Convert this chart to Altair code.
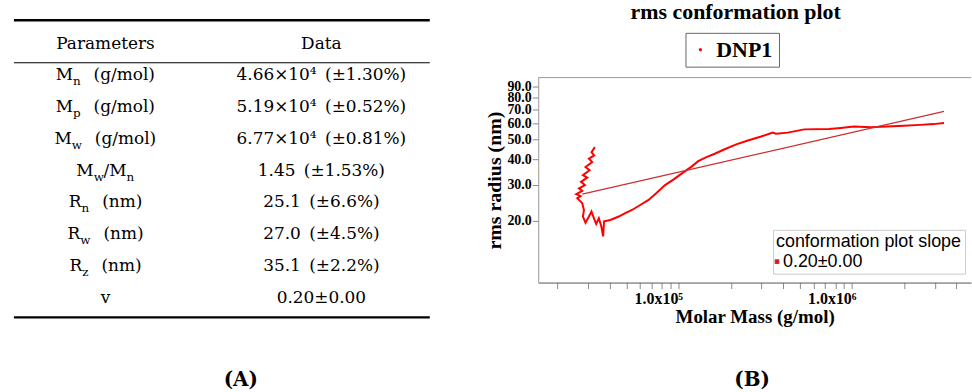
import altair as alt
import pandas as pd

# ---------------- (A) table content ----------------
table_header = ["Parameters", "Data"]
param_symbol = ["M", "M", "M", "M", "R", "R", "R", "v"]
param_subscript = ["n", "p", "w", "w", "n", "w", "z", ""]
param_ratio_symbol = ["", "", "", "/M", "", "", "", ""]
param_ratio_subscript = ["", "", "", "n", "", "", "", ""]
param_unit = ["(g/mol)", "(g/mol)", "(g/mol)", "", "(nm)", "(nm)", "(nm)", ""]
data_value = ["4.66×10⁴", "5.19×10⁴", "6.77×10⁴", "1.45", "25.1", "27.0", "35.1", "0.20±0.00"]
data_error = ["±1.30%", "±0.52%", "±0.81%", "±1.53%", "±6.6%", "±4.5%", "±2.2%", ""]

# ---------------- (B) rms conformation plot data ----------------
molar_mass = [
    32880, 31440, 32570, 30390, 31730, 29040, 30620, 28060, 29710, 27340,
    28820, 26620, 27800, 25690, 27200, 26030,
    27800, 28440, 28060, 29040, 30390, 31440, 32450, 33460, 34670, 35860,
    36680, 37160, 40400, 45120, 49250, 53800, 60030, 67060, 74800, 83470,
    93240, 104000, 118700, 129700, 144700, 161500, 184300, 215000, 250700,
    299000, 348900, 364500, 425300, 529500, 736200, 859200, 1024000, 1276000,
    1590000, 1981000, 2470000, 2943000, 3389000,
]
rms_radius = [
    45.8, 43.3, 41.7, 40.2, 38.7, 36.6, 35.3, 33.4, 32.5, 31.0,
    29.9, 28.8, 28.0, 27.0, 26.4, 25.8,
    24.4, 22.6, 21.0, 19.6, 21.0, 22.2, 20.6, 19.3, 20.6, 18.7,
    16.8, 19.9, 20.2, 21.0, 21.8, 22.6, 23.9, 25.3, 27.4, 29.9,
    31.8, 34.0, 36.8, 39.1, 40.9, 42.5, 44.7, 47.2, 49.3,
    51.6, 53.9, 53.2, 53.9, 55.9, 56.1, 56.8, 57.7, 57.2,
    57.8, 58.3, 58.8, 59.3, 60.0,
]
fit_mass = [27800, 3389000]
fit_radius = [27.0, 68.4]
series_name = "DNP1"
slope_text = "0.20±0.00"
x_domain = [15500, 4850000]
y_domain = [10, 100]
x_tick_values = [20000, 30000, 40000, 50000, 60000, 70000, 80000, 90000,
                 100000, 200000, 300000, 400000, 500000, 600000, 700000,
                 800000, 900000, 1000000, 2000000, 3000000, 4000000]
x_label_values = [100000, 1000000]
x_label_texts = ["1.0x10⁵", "1.0x10⁶"]
y_tick_values = [20, 30, 40, 50, 60, 70, 80, 90]

# ---------------- layout constants ----------------
SERIF = "DejaVu Serif"
TIMES = "Liberation Serif"
SANS = "Liberation Sans"
VIEW_TOP = 77            # both panels' views start at this height
TABLE_W, TABLE_H = 418, 253
HEADER_Y, ROW_PITCH = 43, 31.9
COL_CENTER = [92, 309]
FS, SUB_FS, GAP = 17, 12, 13
PLOT_W, PLOT_H = 435, 206

EM = {"M": 0.998, "R": 0.77, "n": 0.644, "p": 0.64, "w": 0.856, "z": 0.527,
      "/": 0.337, "(": 0.39, ")": 0.39, "g": 0.635, "m": 0.948, "o": 0.602,
      "l": 0.32, "v": 0.578, " ": 0.318}


def tw(s, size):
    return sum(EM.get(c, 0.6) for c in s) * size


pieces = []
for j, h in enumerate(table_header):
    pieces.append(dict(row=0, x=COL_CENTER[j], text=h, kind="center"))
for i in range(len(param_symbol)):
    r = i + 1
    c = COL_CENTER[0]
    main, sub = param_symbol[i], param_subscript[i]
    mid, sub2, unit = param_ratio_symbol[i], param_ratio_subscript[i], param_unit[i]
    if not sub:
        pieces.append(dict(row=r, x=c, text=main, kind="center"))
    elif mid:
        wm, ws, wmid, ws2 = tw(main, FS), tw(sub, SUB_FS), tw(mid, FS), tw(sub2, SUB_FS)
        a = c - (wm + ws + wmid + ws2) / 2 + wm
        a2 = a + ws + wmid
        pieces += [dict(row=r, x=a, text=main, kind="right"),
                   dict(row=r, x=a, text=sub, kind="sub"),
                   dict(row=r, x=a2, text=mid, kind="right"),
                   dict(row=r, x=a2, text=sub2, kind="sub")]
    else:
        wm, ws, wu = tw(main, FS), tw(sub, SUB_FS), tw(unit, FS)
        a = c - (wm + ws + GAP + wu) / 2 + wm
        pieces += [dict(row=r, x=a, text=main, kind="right"),
                   dict(row=r, x=a, text=sub, kind="sub"),
                   dict(row=r, x=a + ws + GAP, text=unit, kind="left")]
    txt = data_value[i] + ("\u2002(" + data_error[i] + ")" if data_error[i] else "")
    pieces.append(dict(row=r, x=COL_CENTER[1], text=txt, kind="center"))

pieces_df = pd.DataFrame(pieces)
rules_df = pd.DataFrame({"pos": [-0.74, 0.6, 8.62], "w": [2.4, 1.1, 2.4]})

ty = alt.Scale(domain=[(VIEW_TOP - HEADER_Y) / ROW_PITCH,
                       (VIEW_TOP + TABLE_H - HEADER_Y) / ROW_PITCH],
               reverse=True, nice=False, zero=False)
tx = alt.Scale(domain=[0, TABLE_W], nice=False)

rules = alt.Chart(rules_df).mark_rule(color="black").encode(
    y=alt.Y("pos:Q", scale=ty, axis=None),
    x=alt.value(0), x2=alt.value(TABLE_W),
    strokeWidth=alt.StrokeWidth("w:Q", scale=None),
)


def text_layer(kind, align, size, dy=0):
    return alt.Chart(pieces_df).transform_filter(
        alt.datum.kind == kind
    ).mark_text(align=align, baseline="middle", font=SERIF, fontSize=size,
                dy=dy, color="black").encode(
        x=alt.X("x:Q", scale=tx, axis=None),
        y=alt.Y("row:Q", scale=ty, axis=None),
        text="text:N",
    )


table = alt.layer(
    rules,
    text_layer("center", "center", FS),
    text_layer("left", "left", FS),
    text_layer("right", "right", FS),
    text_layer("sub", "left", SUB_FS, dy=6),
).properties(
    width=TABLE_W, height=TABLE_H,
    title=alt.TitleParams("(A)", orient="bottom", font=SERIF, fontSize=20,
                          fontWeight="bold", offset=41, anchor="middle", dx=19,
                          color="black"),
)

# ---------------- (B) plot ----------------
curve_df = pd.DataFrame({"M": molar_mass, "R": rms_radius,
                         "order": list(range(len(molar_mass))),
                         "series": series_name})
fit_df = pd.DataFrame({"M": fit_mass, "R": fit_radius, "slope": slope_text})

label_expr = " : ".join(
    f"datum.value == {v} ? '{t}'" for v, t in zip(x_label_values, x_label_texts)
) + " : ''"

xs = alt.Scale(type="log", domain=x_domain, nice=False)
ys = alt.Scale(type="log", domain=y_domain, nice=False)

x_axis = alt.Axis(values=x_tick_values, labelExpr=label_expr, grid=False,
                  title="Molar Mass (g/mol)", labelFont=TIMES, labelFontSize=16,
                  labelFontWeight="bold", labelColor="black", labelAlign="right",
                  labelOffset=4, labelPadding=2, labelOverlap=False, labelFlush=False,
                  tickColor="#888", tickSize=6, domainColor="#555",
                  titleFont=TIMES, titleFontSize=19, titleFontWeight="bold",
                  titleColor="black", titlePadding=1)
y_axis = alt.Axis(values=y_tick_values, format=".1f", grid=False,
                  title="rms radius (nm)", labelFont=TIMES, labelFontSize=14,
                  labelFontWeight="bold", labelColor="black", labelPadding=1,
                  labelOverlap=False, labelFlush=False,
                  tickColor="#888", tickSize=6, domainColor="#999",
                  titleFont=TIMES, titleFontSize=20, titleFontWeight="bold",
                  titleColor="black", titlePadding=2)

border = alt.Chart(pd.DataFrame({"b": [0]})).mark_rule(color="#999", strokeWidth=1).encode(
    y=alt.value(0), x=alt.value(0), x2=alt.value(PLOT_W)
)

curve = alt.Chart(curve_df).mark_line(strokeWidth=2).encode(
    x=alt.X("M:Q", scale=xs, axis=x_axis),
    y=alt.Y("R:Q", scale=ys, axis=y_axis),
    order="order:Q",
    color=alt.Color("series:N", scale=alt.Scale(domain=[series_name], range=["#ff0000"]),
                    legend=alt.Legend(title=None, orient="none", legendX=148, legendY=-45,
                                      labelFont=TIMES, labelFontSize=22,
                                      labelFontWeight="bold", labelColor="black",
                                      symbolType="circle", symbolSize=6,
                                      symbolFillColor="#ff0000", symbolStrokeWidth=1,
                                      strokeColor="#666", fillColor="white",
                                      padding=6, symbolOffset={"expr": "-2"},
                                      labelOffset={"expr": "5"})),
)

fit = alt.Chart(fit_df).mark_line(strokeWidth=1.2).encode(
    x=alt.X("M:Q", scale=xs),
    y=alt.Y("R:Q", scale=ys),
    stroke=alt.Stroke("slope:N", scale=alt.Scale(domain=[slope_text], range=["#c8302c"]),
                      legend=alt.Legend(title="conformation plot slope", orient="none",
                                        legendX=236, legendY=153,
                                        titleFont=SANS, titleFontSize=18,
                                        titleFontWeight="normal", titleColor="black",
                                        labelFont=SANS, labelFontSize=18,
                                        labelColor="black", symbolType="square",
                                        symbolSize=10, symbolFillColor="#ff0000",
                                        symbolStrokeColor="#ff0000",
                                        strokeColor="#cccccc", fillColor="white",
                                        padding=3, titlePadding=2,
                                        labelOffset={"expr": "-3"},
                                        symbolOffset={"expr": "-8"}, titleLimit=400)),
)

plot = alt.layer(border, curve, fit).properties(
    width=PLOT_W, height=PLOT_H,
    title=alt.TitleParams("rms conformation plot", font=TIMES, fontSize=22,
                          fontWeight="bold", color="black", offset=8, dx=-19,
                          anchor="middle"),
)

plot_cell = alt.vconcat(plot).properties(
    title=alt.TitleParams("(B)", orient="bottom", font=SERIF, fontSize=20,
                          fontWeight="bold", offset=44, anchor="middle", dx=24,
                          color="black"),
).resolve_legend(color="independent", stroke="independent")

chart = alt.hconcat(table, plot_cell, spacing=53).resolve_legend(
    color="independent", stroke="independent"
).configure(
    padding={"left": 12, "top": 0, "right": 0, "bottom": 0},
    background="white",
).configure_view(stroke=None)

chart.save("out.html", embed_options={"renderer": "svg", "actions": False})
